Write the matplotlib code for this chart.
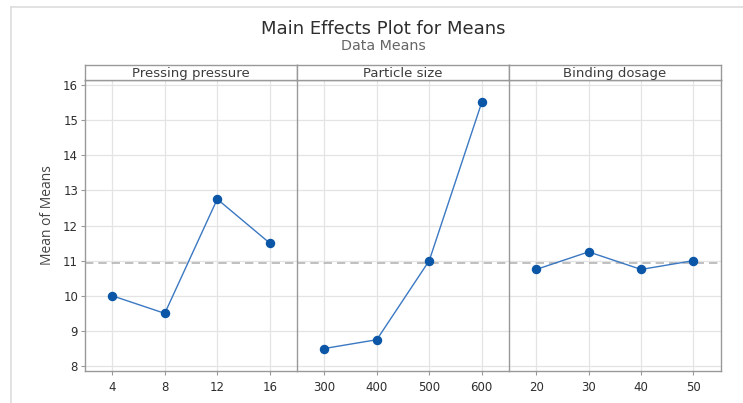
import numpy as np
import matplotlib.pyplot as plt
from matplotlib.lines import Line2D

plt.rcParams['font.family'] = ['DejaVu Sans']

# factors and their level means
factors = ["Pressing pressure", "Particle size", "Binding dosage"]
levels = [
    ["4", "8", "12", "16"],
    ["300", "400", "500", "600"],
    ["20", "30", "40", "50"],
]
means = [
    [10.0, 9.5, 12.75, 11.5],
    [8.5, 8.75, 11.0, 15.5],
    [10.75, 11.25, 10.75, 11.0],
]
yticks = [8, 9, 10, 11, 12, 13, 14, 15, 16]
grand_mean = np.mean([v for m in means for v in m])

W, H = 743, 403
fig = plt.figure(figsize=(W / 100, H / 100), dpi=100)

# light frame around the chart
fig.add_artist(Line2D([11 / W, 1], [1 - 7 / H, 1 - 7 / H], color="#dddddd", lw=1.2))
fig.add_artist(Line2D([11 / W, 11 / W], [0, 1 - 7 / H], color="#dddddd", lw=1.2))

fig.text(383 / W, 1 - 29 / H, "Main Effects Plot for Means", ha="center", va="center",
         fontsize=13, color="#2e2e2e")
fig.text(383 / W, 1 - 46 / H, "Data Means", ha="center", va="center",
         fontsize=10.3, color="#666666")

edges = [85, 297, 509, 720.7]
top, bot, strip_top = 80, 371, 65
spine_c = "#999999"
line_c = "#3a78c2"
mark_c = "#0b56a6"

axes = []
for i, name in enumerate(factors):
    x0 = edges[i] / W
    w = (edges[i + 1] - edges[i]) / W
    ax = fig.add_axes([x0, 1 - bot / H, w, (bot - top) / H])
    axes.append(ax)
    xs = np.arange(len(levels[i]))
    ax.plot(xs, means[i], color=line_c, lw=1.0, marker="o", ms=5.8,
            mfc=mark_c, mec=mark_c, zorder=3)
    ax.axhline(grand_mean, color="#b5b5b5", lw=1.2, ls=(0, (5, 3)), zorder=2)
    ax.set_xlim(-0.52, len(xs) - 0.48)
    ax.set_ylim(7.86, 16.14)
    ax.set_xticks(xs)
    ax.set_xticklabels(levels[i])
    ax.set_yticks(yticks)
    ax.grid(True, color="#e4e4e4", lw=0.9, zorder=0)
    ax.set_axisbelow(True)
    for s in ax.spines.values():
        s.set_color(spine_c)
        s.set_linewidth(1.0)
    ax.tick_params(axis="x", colors=spine_c, labelcolor="#2e2e2e", labelsize=8.5,
                   length=3, width=0.8, pad=4)
    ax.tick_params(axis="y", colors=spine_c, labelcolor="#2e2e2e", labelsize=8.5,
                   length=3, width=0.8, pad=2)
    if i > 0:
        ax.tick_params(axis="y", left=False, labelleft=False)
    if i < 2:
        ax.spines["right"].set_visible(False)

    # strip header
    sax = fig.add_axes([x0, 1 - top / H, w, (top - strip_top) / H])
    sax.set_xticks([])
    sax.set_yticks([])
    for s in sax.spines.values():
        s.set_color(spine_c)
        s.set_linewidth(1.0)
    sax.text(0.5, 0.45, name, transform=sax.transAxes, ha="center", va="center",
             fontsize=9.5, color="#3c3c3c")

fig.text(47 / W, 1 - 215 / H, "Mean of Means", rotation=90, ha="center", va="center",
         fontsize=10, color="#444444", family="Open Sans")

fig.savefig("out.png", dpi=100)
